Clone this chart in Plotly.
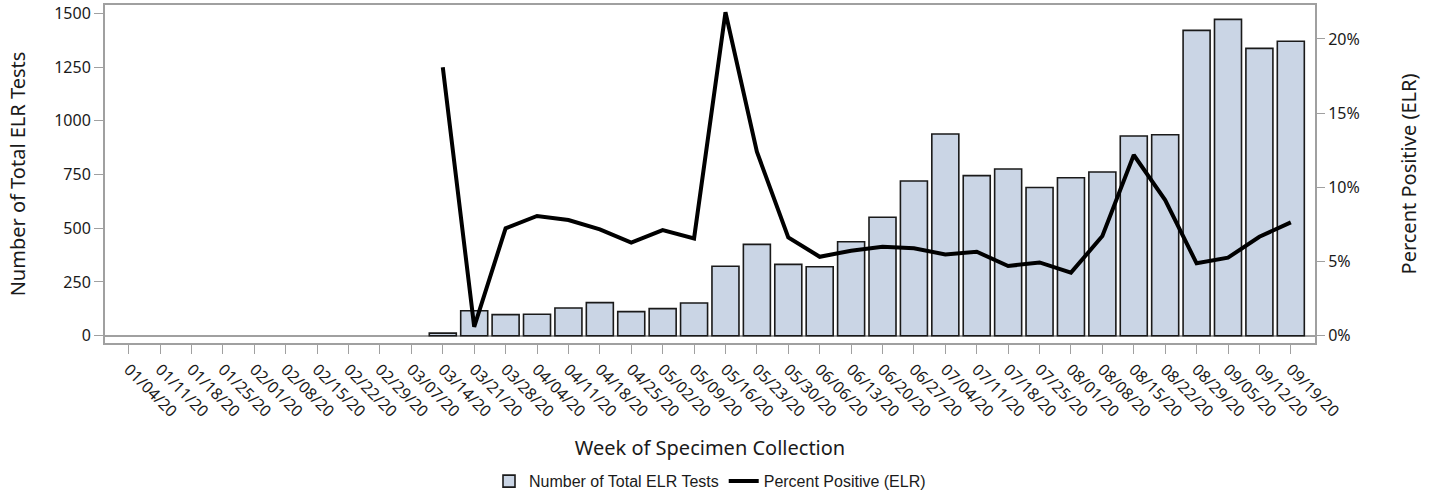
import plotly.graph_objects as go

weeks = ["01/04/20","01/11/20","01/18/20","01/25/20","02/01/20","02/08/20","02/15/20","02/22/20",
         "02/29/20","03/07/20","03/14/20","03/21/20","03/28/20","04/04/20","04/11/20","04/18/20",
         "04/25/20","05/02/20","05/09/20","05/16/20","05/23/20","05/30/20","06/06/20","06/13/20",
         "06/20/20","06/27/20","07/04/20","07/11/20","07/18/20","07/25/20","08/01/20","08/08/20",
         "08/15/20","08/22/20","08/29/20","09/05/20","09/12/20","09/19/20"]

total_tests = [None]*10 + [12, 116, 98, 100, 129, 154, 112, 126, 152, 323, 425, 332, 321, 437,
               551, 720, 939, 745, 776, 690, 735, 762, 929, 935, 1421, 1472, 1337, 1370]

pct_positive = [None]*10 + [18.1, 0.6, 7.24, 8.07, 7.8, 7.17, 6.27, 7.12, 6.56, 21.8, 12.4, 6.63,
                5.32, 5.73, 6.0, 5.89, 5.48, 5.66, 4.7, 4.94, 4.25, 6.72, 12.18, 9.14, 4.88,
                5.26, 6.67, 7.64]

x_idx = list(range(len(weeks)))

fig = go.Figure()
fig.add_trace(go.Bar(
    x=x_idx, y=total_tests, name="Number of Total ELR Tests",
    marker=dict(color="#cad5e5", line=dict(color="#1a1a1a", width=1.6)),
    width=0.86, yaxis="y"))
fig.add_trace(go.Scatter(
    x=x_idx, y=pct_positive, name="Percent Positive (ELR)", mode="lines",
    line=dict(color="black", width=4), yaxis="y2", connectgaps=False))

tick_font = dict(family="Noto Sans, Open Sans, sans-serif", size=16, color="#1a1a1a")
title_font = dict(family="Noto Sans, Open Sans, sans-serif", size=20, color="#1a1a1a")
grey = "#a0a0a0"

fig.update_layout(
    width=1433, height=490,
    margin=dict(l=105, r=118, t=5, b=147),
    plot_bgcolor="white", paper_bgcolor="white",
    xaxis=dict(
        range=[-0.755, 37.77], tickmode="array", tickvals=x_idx, ticktext=weeks,
        tickangle=45, tickfont=tick_font, ticks="outside", ticklen=9, tickcolor=grey,
        showline=True, linecolor=grey, linewidth=2, mirror=True, showgrid=False, zeroline=False,
        automargin=False,
        title=dict(text="Week of Specimen Collection", font=title_font, standoff=20)),
    yaxis=dict(
        range=[-34, 1539], tickvals=[0, 250, 500, 750, 1000, 1250, 1500],
        tickfont=tick_font, ticks="outside", ticklen=9, tickcolor=grey,
        showline=True, linecolor=grey, linewidth=2, mirror=True, showgrid=False,
        zeroline=True, zerolinecolor=grey, zerolinewidth=1.5, automargin=False,
        title=dict(text="Number of Total ELR Tests", font=title_font, standoff=23)),
    yaxis2=dict(
        range=[-0.49, 22.29], overlaying="y", side="right",
        tickvals=[0, 5, 10, 15, 20], ticktext=["0%", "5%", "10%", "15%", "20%"],
        tickfont=tick_font, ticks="outside", ticklen=9, tickcolor=grey,
        showline=False, showgrid=False, zeroline=False, automargin=False,
        title=dict(text="Percent Positive (ELR)", font=title_font, standoff=43)),
    legend=dict(orientation="h", x=0.5, xanchor="center", y=0.018, yanchor="middle",
                yref="container", font=dict(family="Liberation Sans, Arial", size=16, color="#1a1a1a"),
                traceorder="normal"),
    showlegend=True,
)

fig.write_html("out.html", config={"displayModeBar": False},
               post_script="document.body.style.margin='0';document.body.style.overflow='hidden';")
